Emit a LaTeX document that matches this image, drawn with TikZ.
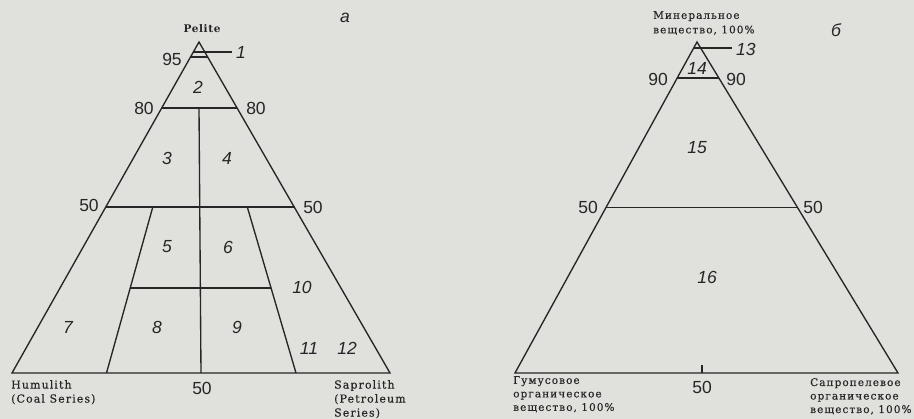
\documentclass[tikz,border=0pt]{standalone}
\usepackage{fontspec}
\setmainfont{DejaVu Serif}
\newfontfamily\numfont{Liberation Sans}
\newfontfamily\labfont[LetterSpace=10,FakeBold=0.4]{DejaVu Serif}
\newfontfamily\ttlfont[LetterSpace=6]{DejaVu Serif}
\newfontfamily\rusfont[LetterSpace=10,FakeBold=0.4]{DejaVu Serif}
\definecolor{bg}{RGB}{224,224,221}
\definecolor{ink}{RGB}{38,38,38}
\begin{document}
\begin{tikzpicture}[x=1pt,y=-1pt,
  edge/.style={draw=ink,line width=1.35pt},
  num/.style={font=\numfont\fontsize{17.5}{17.5}\selectfont,text=ink,inner sep=0pt},
  reg/.style={font=\numfont\itshape\fontsize{17.5}{17.5}\selectfont,text=ink,inner sep=0pt},
  eng/.style={font=\labfont\fontsize{11}{14}\selectfont,text=ink,inner sep=0pt,align=left},
  rus/.style={font=\rusfont\fontsize{10.5}{13.5}\selectfont,text=ink,inner sep=0pt,align=left},
  ttl/.style={font=\ttlfont\bfseries\fontsize{10.5}{13}\selectfont,text=ink,inner sep=0pt}]
\fill[bg] (0,0) rectangle (914,419);
\useasboundingbox (0,0) rectangle (914,419);
% ---- left diagram ----
\coordinate (A) at (199,42);
\coordinate (B) at (12,373);
\coordinate (C) at (390,373);
\coordinate (p95l) at (190.5,57);
\coordinate (p95r) at (207.7,57);
\coordinate (p80l) at (161.6,108);
\coordinate (p80r) at (237.2,108);
\coordinate (p80m) at (199,108);
\coordinate (p50l) at (105.5,207);
\coordinate (p50r) at (294.5,207);
\coordinate (q50l) at (152.8,207);
\coordinate (q50r) at (247.3,207);
\coordinate (bm) at (201,373);
\coordinate (bl) at (106.5,373);
\coordinate (br) at (296,373);
\coordinate (ml) at (130.3,288);
\coordinate (mr) at (270.8,288);
\coordinate (ld1) at (193.4,52);
\coordinate (ld1e) at (232,52);
\draw[edge] (A) -- (B) -- (C) -- cycle;
\draw[edge] (p95l) -- (p95r);
\draw[edge] (p80l) -- (p80r);
\draw[edge] (p50l) -- (p50r);
\draw[edge] (p80m) -- (bm);
\draw[edge] (q50l) -- (bl);
\draw[edge] (q50r) -- (br);
\draw[edge] (ml) -- (mr);
\draw[edge] (ld1) -- (ld1e);
\node[ttl] (pel) at (202,29) {Pelite};
\node[reg] (ta) at (345,18) {a};
\node[reg,anchor=west] (n1) at (236,52) {1};
\node[num] (l95) at (172,59) {95};
\node[reg] (n2) at (198,87) {2};
\node[num] (l80a) at (144,108) {80};
\node[num] (l80b) at (256,108) {80};
\node[reg] (n3) at (167,158) {3};
\node[reg] (n4) at (227,158) {4};
\node[num] (l50a) at (89,205.5) {50};
\node[num] (l50b) at (313,207) {50};
\node[reg] (n5) at (167,247) {5};
\node[reg] (n6) at (228,247) {6};
\node[reg] (n10) at (302,287) {10};
\node[reg] (n7) at (68,327) {7};
\node[reg] (n8) at (157,327) {8};
\node[reg] (n9) at (237,327) {9};
\node[reg] (n11) at (309,348) {11};
\node[reg] (n12) at (347,348) {12};
\node[num] (l50c) at (202,388) {50};
\node[eng,anchor=north west] (hum) at (11,380) {Humulith\\(Coal Series)};
\node[eng,anchor=north west] (sap) at (334,380) {Saprolith\\(Petroleum\\Series)};
% ---- right diagram ----
\coordinate (D) at (697,42);
\coordinate (E) at (515,373);
\coordinate (F) at (898,373);
\coordinate (r90l) at (677.2,78);
\coordinate (r90r) at (718.9,78);
\coordinate (r50l) at (606,207.5);
\coordinate (r50r) at (797.5,207.5);
\coordinate (tk) at (702,373);
\coordinate (tkt) at (702,365);
\coordinate (ld13) at (693.7,48);
\coordinate (ld13e) at (732,48);
\draw[edge] (D) -- (E) -- (F) -- cycle;
\draw[edge] (r90l) -- (r90r);
\draw[edge] (r50l) -- (r50r);
\draw[edge] (tk) -- (tkt);
\draw[edge] (ld13) -- (ld13e);
\node[rus,anchor=north west,font=\rusfont\fontsize{10.5}{14.5}\selectfont] (min) at (653,11) {Минеральное\\вещество, 100\%};
\node[reg] (tb) at (836,30) {б};
\node[reg,anchor=west] (n13) at (736,49) {13};
\node[reg] (n14) at (697,68) {14};
\node[num] (l90a) at (658,79) {90};
\node[num] (l90b) at (736,79) {90};
\node[reg] (n15) at (697,148) {15};
\node[num] (l50d) at (588,207) {50};
\node[num] (l50e) at (813,207) {50};
\node[reg] (n16) at (707,277) {16};
\node[num] (l50f) at (702,387) {50};
\node[rus,anchor=north west] (gum) at (513,376) {Гумусовое\\органическое\\вещество, 100\%};
\node[rus,anchor=north west] (sapr) at (810,378) {Сапропелевое\\органическое\\вещество, 100\%};
\end{tikzpicture}
\end{document}
